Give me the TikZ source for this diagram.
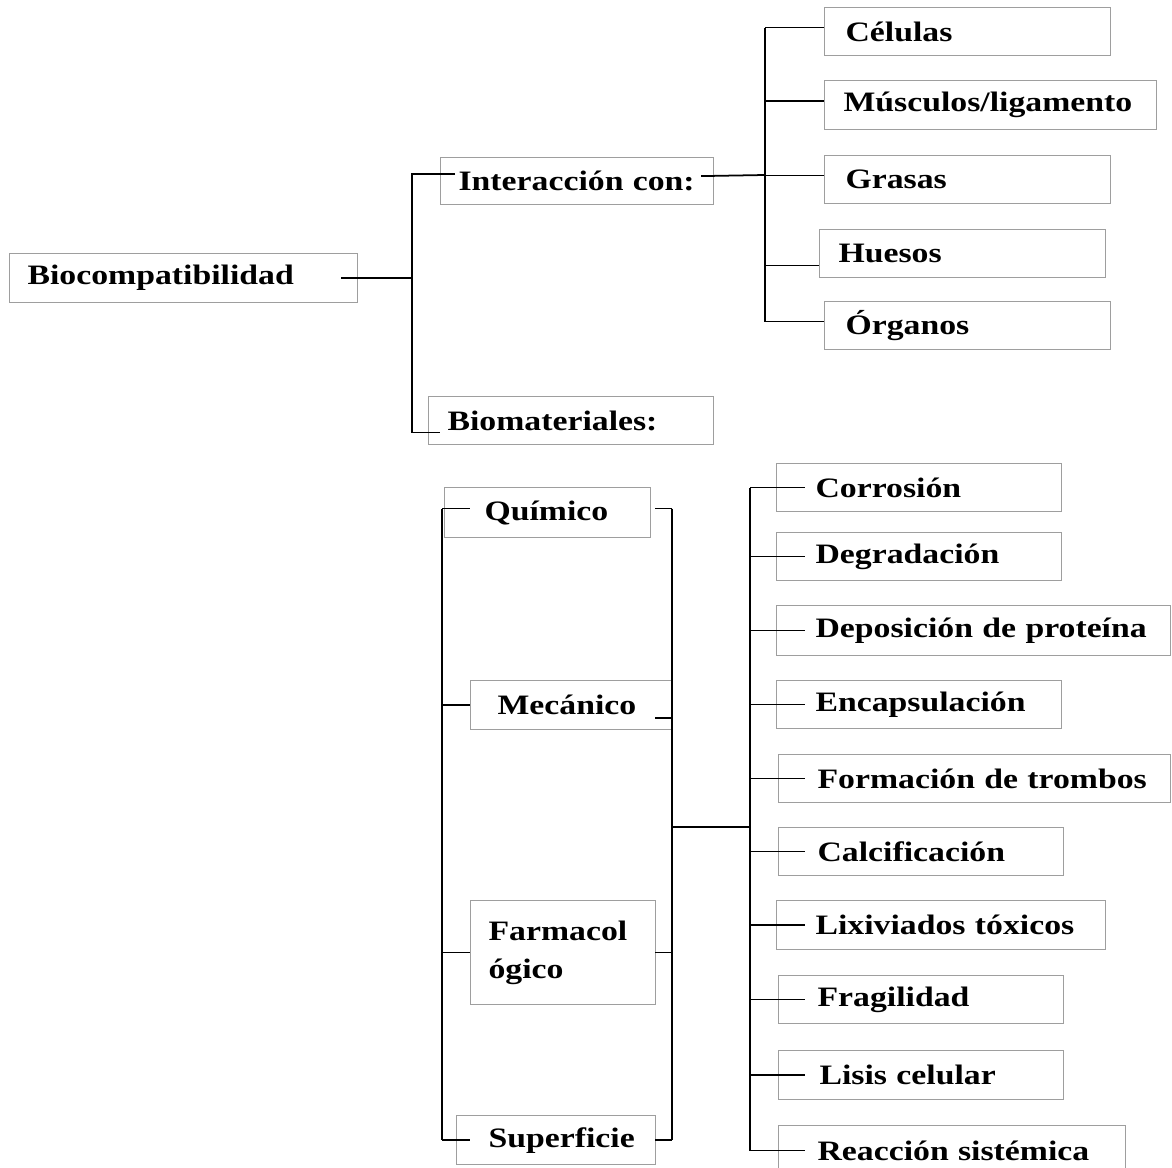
\documentclass[tikz,border=0pt]{standalone}
\usepackage{fontspec}
\setmainfont{Liberation Serif}[FakeStretch=1.2]
\usepackage{tikz}
\usetikzlibrary{positioning}
\definecolor{boxgray}{gray}{0.62}

\begin{document}
\begin{tikzpicture}
    [
    x=0.02cm, y=-0.02cm,
    line width=1pt,
    box/.style={draw=boxgray, line width=0.7pt, anchor=north west, align=left,
      inner xsep=0pt, inner ysep=0pt, minimum height=0.96cm,
      font=\bfseries\fontsize{16}{21.5}\selectfont},
    ]
    \useasboundingbox (0,0) rectangle (1172,1168);

    % upper part
    \node (bio) at (9,253) [box, text width=6.96cm, minimum height=0.98cm] {\hspace*{0.36cm}Biocompatibilidad};
    \node (inter) at (440,157) [box, text width=5.46cm, minimum height=0.94cm] {\hspace*{0.36cm}Interacción con:};
    \node (bioma) at (428,396) [box, text width=5.70cm] {\hspace*{0.38cm}Biomateriales:};

    \node (cel) at (824,7) [box, text width=5.72cm] {\hspace*{0.42cm}Células};
    \node (mus) at (824,80) [box, text width=6.64cm, minimum height=0.98cm] {\hspace*{0.38cm}Músculos/ligamento};
    \node (gra) at (824,155) [box, text width=5.72cm] {\hspace*{0.42cm}Grasas};
    \node (hue) at (819,229) [box, text width=5.72cm] {\hspace*{0.38cm}Huesos};
    \node (org) at (824,301) [box, text width=5.72cm] {\hspace*{0.42cm}Órganos};

    \coordinate (j1) at (412,278);
    \coordinate (j2) at (765,175);
    \draw ([xshift=-0.34cm]bio.east) -- (bio.east -| j1);
    \draw ([xshift=0.3cm,yshift=0.14cm]inter.west) -| (j1) |- ([xshift=0.24cm,yshift=-0.24cm]bioma.west);
    \draw (inter.east) ++(-0.26cm,0.1cm) -- (j2);
    \draw ([yshift=0.08cm]cel.west -| j2) -- ([yshift=0.08cm]org.west -| j2);
    \foreach \n in {cel,mus,gra,org}
      \draw ([yshift=0.08cm]\n.west -| j2) -- ([yshift=0.08cm]\n.west);
    \draw ([yshift=-0.24cm]hue.west -| j2) -- ([yshift=-0.24cm]hue.west);

    % lower part
    \node (qui) at (444,487) [box, text width=4.12cm, minimum height=1.0cm] {\hspace*{0.80cm}Químico};
    \node (mec) at (470,680) [box, text width=4.04cm, minimum height=0.98cm] {\hspace*{0.54cm}Mecánico};
    \node (far) at (470,900) [box, text width=3.70cm, minimum height=2.08cm] {\hspace*{0.36cm}Farmacol\\\hspace*{0.36cm}ógico};
    \node (sup) at (456,1115) [box, text width=3.98cm, minimum height=0.98cm] {\hspace*{0.64cm}Superficie};

    \node (cor) at (776,463) [box, text width=5.70cm] {\hspace*{0.78cm}Corrosión};
    \node (deg) at (776,532) [box, text width=5.70cm] {\hspace*{0.78cm}Degradación};
    \node (dep) at (776,605) [box, text width=7.88cm, minimum height=1.0cm] {\hspace*{0.78cm}Deposición de proteína};
    \node (enc) at (776,680) [box, text width=5.70cm] {\hspace*{0.78cm}Encapsulación};
    \node (fort) at (778,754) [box, text width=7.84cm] {\hspace*{0.78cm}Formación de trombos};
    \node (cal) at (778,827) [box, text width=5.70cm] {\hspace*{0.78cm}Calcificación};
    \node (lix) at (776,900) [box, text width=6.58cm, minimum height=0.98cm] {\hspace*{0.78cm}Lixiviados tóxicos};
    \node (fra) at (778,975) [box, text width=5.70cm] {\hspace*{0.78cm}Fragilidad};
    \node (lis) at (778,1050) [box, text width=5.70cm, minimum height=0.98cm] {\hspace*{0.82cm}Lisis celular};
    \node (rea) at (778,1125) [box, text width=6.94cm, minimum height=1.0cm] {\hspace*{0.78cm}Reacción sistémica};

    \coordinate (l1) at (442,0);
    \coordinate (l2) at (470,0);
    \coordinate (m1) at (655,0);
    \coordinate (m2) at (672,0);
    \coordinate (j3) at (672,827);
    \coordinate (r1) at (750,0);
    \coordinate (r2) at (805,0);

    \draw ([yshift=0.08cm]qui.west -| l1) -- (sup.west -| l1);
    \draw ([yshift=0.08cm]qui.west -| m2) -- (sup.west -| m2);
    \draw ([yshift=0.08cm]qui.west -| l1) -- ([yshift=0.08cm]qui.west -| l2);
    \draw ([yshift=0.08cm]qui.west -| m1) -- ([yshift=0.08cm]qui.west -| m2);
    \foreach \n in {mec,far,sup}
      \draw (\n.west -| l1) -- (\n.west -| l2);
    \foreach \n in {far,sup}
      \draw (\n.west -| m1) -- (\n.west -| m2);
    \draw ([yshift=-0.26cm]mec.west -| m1) -- ([yshift=-0.26cm]mec.west -| m2);
    \draw (j3) -- (j3 -| r1);
    \draw (cor.west -| r1) -- (rea.west -| r1);
    \foreach \n in {cor,deg,dep,enc,fort,cal,lix,fra,lis,rea}
      \draw (\n.west -| r1) -- (\n.west -| r2);
\end{tikzpicture}
\end{document}
